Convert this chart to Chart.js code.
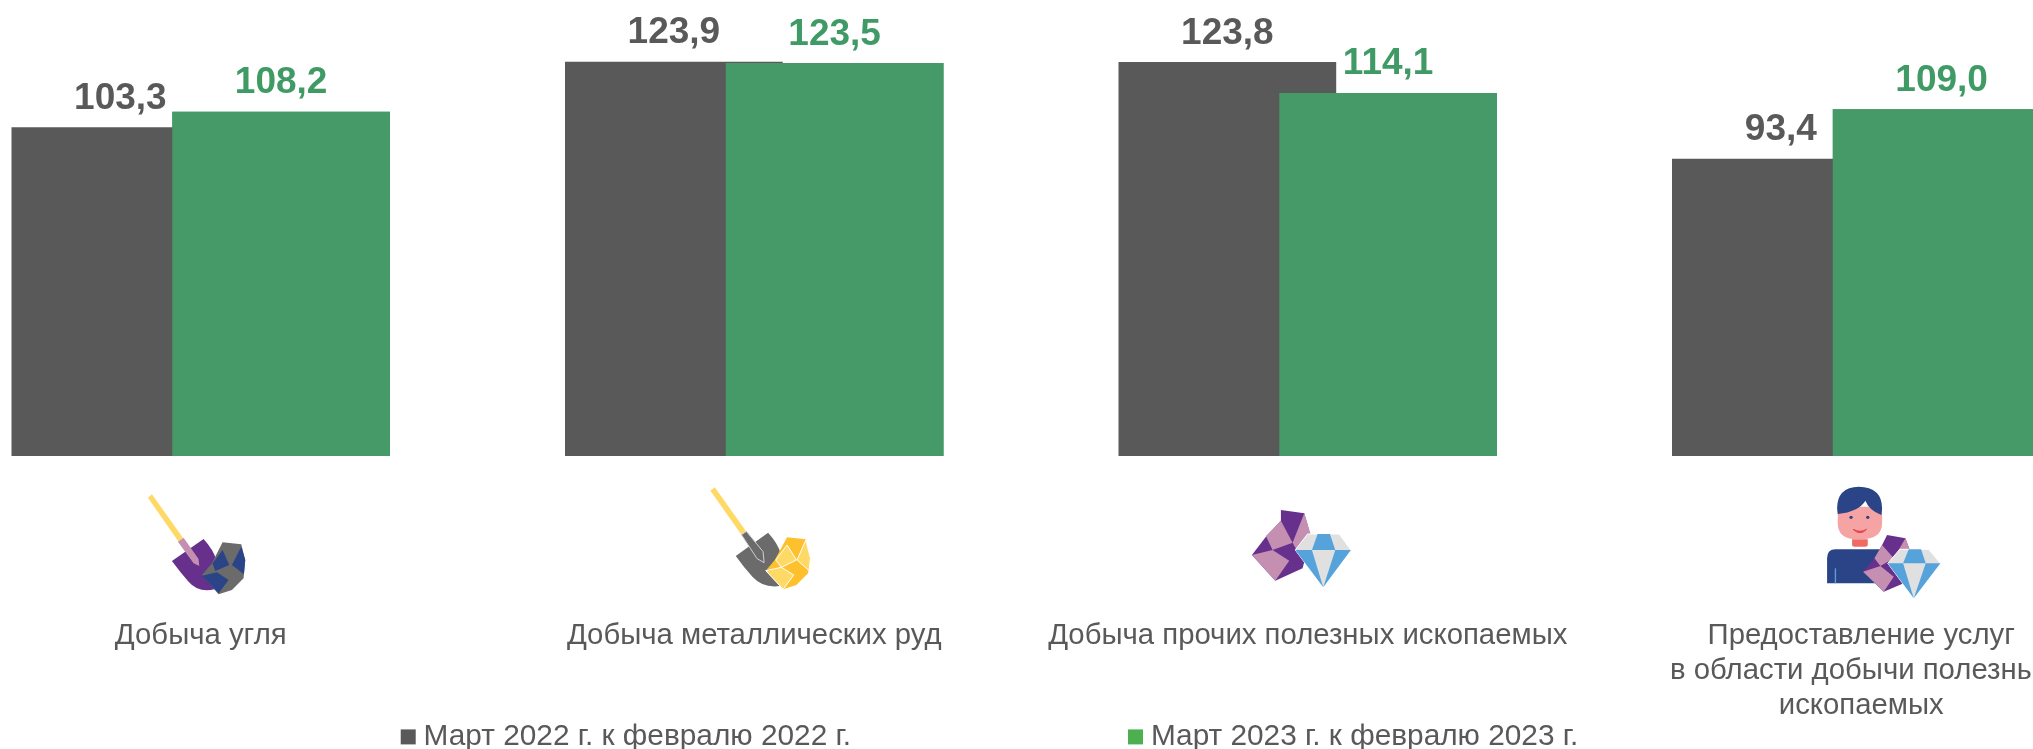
<!DOCTYPE html>
<html lang="ru">
<head>
<meta charset="utf-8">
<title>Добыча полезных ископаемых</title>
<script src="https://cdn.jsdelivr.net/npm/chart.js@4/dist/chart.umd.min.js"></script>
<style>
    html, body { margin: 0; padding: 0; background: #fff; overflow: hidden; width: 2033px; height: 749px; position: relative; }
    /* the last category runs off the right edge and the first plot slot off the left one, as in the original slide */
    #chart { position: absolute; left: -76px; top: 0; }
</style>
</head>
<body>
<canvas id="chart" width="2214" height="749"></canvas>
<script>
const categories = [
    ['Добыча угля'],
    ['Добыча металлических руд'],
    ['Добыча прочих полезных ископаемых'],
    ['Предоставление услуг', 'в области добычи полезных', 'ископаемых']
];
const seriesNames = ['Март 2022 г. к февралю 2022 г.', 'Март 2023 г. к февралю 2023 г.'];
const values2022 = [103.3, 123.9, 123.8, 93.4];
const values2023 = [108.2, 123.5, 114.1, 109.0];
const barColors = ['#595959', '#459A68'];
const legendColors = ['#595959', '#4CAF50'];
const valueColors = ['#595959', '#3F9A66'];
const textColor = '#595959';
const fontFamily = '"Liberation Sans", Arial, sans-serif';

const PURPLE = '#66308C', PINK = '#C48FB0', NAVY = '#2B4488', GREY = '#6B6B6B';
const YELLOW = '#FFD966', GOLD = '#FFC02E', SKY = '#56A3DC', PALE = '#E0E0E0';

// icon pictures: [fill, path, optional stroke], drawn at 1/3 scale under each category
const icons = [
    { dx: -65.5, dy: 29, shapes: [
        [YELLOW, 'M38 38L50 28L143 158L130 170Z'],
        [PURPLE, 'M110 228L205 162Q235 195 243 225L240 312Q190 325 160 290Q135 262 110 228Z'],
        [PINK, 'M128 170L145 158L190 222L192 243L175 235Z'],
        [GREY, 'M262 172L318 178L330 225L325 280L290 315L250 328L200 270L230 235Z'],
        [NAVY, 'M232 235L262 195L282 240L240 258Z'],
        [NAVY, 'M318 185L330 225L326 268L290 240Z'],
        [NAVY, 'M200 272L245 262L280 285L250 325Z']
    ] },
    { dx: -54.5, dy: 24, shapes: [
        [YELLOW, 'M32 32L45 22L138 152L125 164Z'],
        [GREY, 'M108 228L205 158Q235 190 243 222L240 318Q190 325 158 290Q132 262 108 228Z'],
        [GREY, 'M125 164L140 154L190 215L193 248L172 236Z', '#D0D0D0'],
        [GOLD, 'M262 172L318 178L332 235L325 280L290 315L250 328L198 272L225 240Z'],
        [YELLOW, 'M262 195L290 240L245 262L228 240Z', '#FFFFFF'],
        [YELLOW, 'M318 180L332 235L328 272L292 240Z', '#FFFFFF'],
        [YELLOW, 'M198 272L245 262L282 285L250 328Z', '#FFFFFF']
    ] },
    { dx: -68.5, dy: 44, shapes: [
        [PURPLE, 'M125 30L195 40L215 110L190 205L108 242L38 165L80 110L125 62Z'],
        [PINK, 'M125 62L160 128L100 150L80 108Z'],
        [PINK, 'M38 165L100 150L150 182L108 242Z'],
        [PINK, 'M195 40L215 105L172 150L160 128Z'],
        [PALE, 'M168 150L205 102H300L335 150L252 262Z', '#FFFFFF'],
        [SKY, 'M235 102H272L288 150H218Z'],
        [SKY, 'M168 150H218L252 262Z'],
        [SKY, 'M288 150H335L252 262Z']
    ] },
    { dx: -47.5, dy: 24, shapes: [
        [NAVY, 'M40 310V235Q40 208 65 208H210V310Z'],
        [SKY, 'M63 265H67V310H63Z'],
        ['#EF6A62', 'M115 178H162V195Q162 200 155 200H122Q115 200 115 195Z'],
        ['#F5A3A3', 'M72 80V130Q72 180 135 178Q205 180 205 130V80Z'],
        [NAVY, 'M70 85Q70 22 135 20Q205 22 205 85L203 105Q165 90 155 62Q135 95 72 102Z'],
        [NAVY, 'M107 112a5 5 0 1 0 10 0a5 5 0 1 0 -10 0Z'],
        [NAVY, 'M157 112a5 5 0 1 0 10 0a5 5 0 1 0 -10 0Z'],
        ['#E8414C', 'M118 148Q140 168 158 148Q140 160 118 148Z', '#E8414C'],
        [PURPLE, 'M220 165L275 175L288 210L270 310L210 335L148 275L182 235L205 195Z'],
        [PINK, 'M205 195L240 235L200 258L182 235Z'],
        [PINK, 'M148 275L200 258L240 290L210 335Z'],
        [PINK, 'M275 175L288 210L255 245L240 235Z'],
        [PALE, 'M222 250L258 208H345L380 250L300 355Z', '#FFFFFF'],
        [SKY, 'M285 208H322L336 250H268Z'],
        [SKY, 'M222 250H268L300 355Z'],
        [SKY, 'M336 250H380L300 355Z']
    ] }
];

// green bars overlap the grey ones, so they go on top, then the figures above the bars
const barLabels = {
    id: 'barLabels',
    afterDatasetsDraw(chart) {
        chart.getDatasetMeta(1).controller.draw();
        const ctx = chart.ctx;
        ctx.save();
        ctx.font = 'bold 37px ' + fontFamily;
        ctx.textAlign = 'center';
        ctx.textBaseline = 'alphabetic';
        chart.data.datasets.forEach((ds, d) => {
            ctx.fillStyle = valueColors[d];
            chart.getDatasetMeta(d).data.forEach((bar, i) => {
                ctx.fillText(ds.data[i].toFixed(1).replace('.', ','), bar.x, bar.y - 18.5);
            });
        });
        ctx.restore();
    }
};

const categoryIcons = {
    id: 'categoryIcons',
    afterDraw(chart) {
        const ctx = chart.ctx;
        const xScale = chart.scales.x;
        icons.forEach((icon, i) => {
            ctx.save();
            ctx.translate(xScale.getPixelForValue(i) + icon.dx, chart.chartArea.bottom + icon.dy);
            ctx.scale(1 / 3, 1 / 3);
            icon.shapes.forEach(([fill, path, stroke]) => {
                const p = new Path2D(path);
                ctx.fillStyle = fill;
                ctx.fill(p);
                if (stroke) {
                    ctx.strokeStyle = stroke;
                    ctx.lineWidth = 3;
                    ctx.stroke(p);
                }
            });
            ctx.restore();
        });
    }
};

// legend items sit far apart, its padding would push it off the page without this
const LEGEND_GAP = 284;
const legendPlace = {
    id: 'legendPlace',
    afterLayout(chart) {
        const legend = chart.legend;
        legend.left -= 38;
        legend.right -= 38;
        legend.top = 722 - LEGEND_GAP;
    }
};

new Chart(document.getElementById('chart'), {
    type: 'bar',
    data: {
        labels: categories,
        datasets: [
            { label: seriesNames[0], data: values2022, backgroundColor: barColors[0] },
            { label: seriesNames[1], data: values2023, backgroundColor: barColors[1] }
        ]
    },
    options: {
        responsive: false,
        animation: false,
        categoryPercentage: 0.581,
        barPercentage: 1.354,
        layout: { padding: { top: 10.5, left: 0, right: 0, bottom: 0 } },
        scales: {
            x: {
                grid: { display: false, drawTicks: false },
                border: { display: false },
                // tick padding counts double in the fit and leaks into the side padding, the room under the bars is fixed
                afterFit(axis) {
                    axis.height = 265;
                    axis.paddingRight = 0;
                },
                ticks: {
                    color: textColor,
                    padding: 162,
                    autoSkip: false,
                    maxRotation: 0,
                    font: { family: fontFamily, size: 29.33, lineHeight: 1.193 }
                }
            },
            y: { display: false, min: 0, max: 140 }
        },
        plugins: {
            tooltip: { enabled: false },
            legend: {
                position: 'bottom',
                maxHeight: 28,
                labels: {
                    color: textColor,
                    usePointStyle: true,
                    // boxWidth only sets the text offset here, the square's size comes from boxHeight
                    boxWidth: 1,
                    boxHeight: 15,
                    padding: LEGEND_GAP,
                    font: { family: fontFamily, size: 29.8 },
                    generateLabels: chart => chart.data.datasets.map((ds, i) => ({
                        text: ds.label,
                        fillStyle: legendColors[i],
                        strokeStyle: legendColors[i],
                        lineWidth: 0,
                        pointStyle: 'rect',
                        fontColor: textColor,
                        datasetIndex: i
                    }))
                }
            }
        }
    },
    plugins: [barLabels, categoryIcons, legendPlace]
});
</script>
</body>
</html>
